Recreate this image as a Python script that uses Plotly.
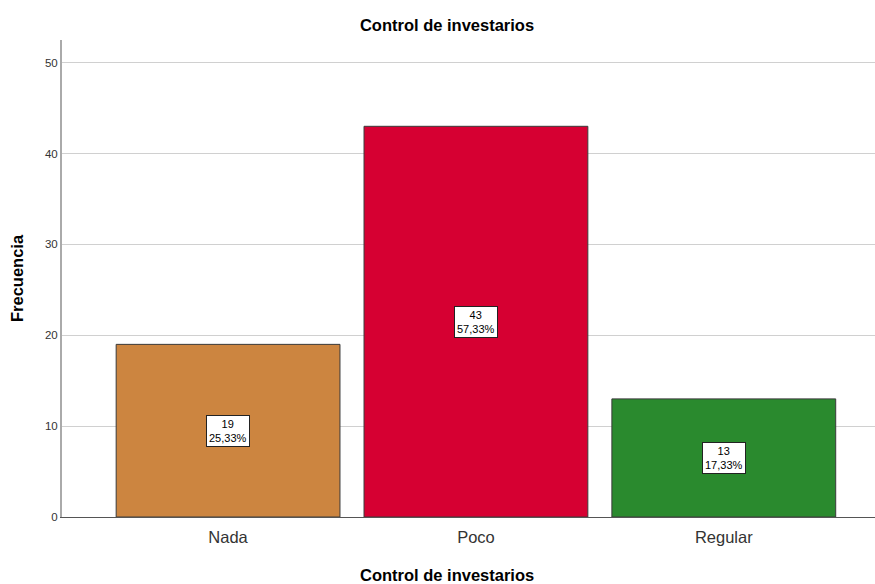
import plotly.graph_objects as go

categories = ["Nada", "Poco", "Regular"]
counts = [19, 43, 13]
pct_labels = ["25,33%", "57,33%", "17,33%"]
colors = ["#CC8540", "#D60032", "#2A8A2E"]
y_ticks = [0, 10, 20, 30, 40, 50]
title_text = "Control de investarios"

W, H = 875, 584
ML, MR, MT, MB = 62, 0, 40, 67

fig = go.Figure()
fig.add_trace(go.Bar(
    x=categories, y=counts, width=0.903,
    marker=dict(color=colors, line=dict(color="#3a3a3a", width=1)),
    hoverinfo="skip",
))

for c, v, p in zip(categories, counts, pct_labels):
    fig.add_annotation(
        x=c, y=v / 2, xref="x", yref="y",
        text=f"{v}<br>{p}", showarrow=False,
        font=dict(family="Arial", size=11, color="#000"),
        bgcolor="white", bordercolor="#222", borderwidth=1, borderpad=2,
        align="center",
    )

# x-axis title centred like the reference
fig.add_annotation(
    x=(447 - ML) / (W - ML - MR), y=(H - 575 - MB) / (H - MT - MB),
    xref="paper", yref="paper", yanchor="middle",
    text=f"<b>{title_text}</b>", showarrow=False,
    font=dict(family="Arial", size=16.5, color="#000"),
)

fig.update_layout(
    width=W, height=H,
    margin=dict(l=ML, r=MR, t=MT, b=MB, autoexpand=False),
    paper_bgcolor="white", plot_bgcolor="white",
    showlegend=False,
    font=dict(family="Arial", color="#222"),
    title=dict(text=f"<b>{title_text}</b>", x=447 / W, xref="container", xanchor="center",
               y=1 - 25 / H, yref="container", yanchor="middle",
               font=dict(size=16.5, color="#000")),
)
fig.update_xaxes(
    range=[-0.67, 2.61], automargin=False,
    showgrid=False, showline=True, linecolor="#555", linewidth=1,
    ticks="", tickfont=dict(size=16.5, color="#333"), ticklabelstandoff=5,
)
fig.update_yaxes(
    range=[0, 52.5], tickvals=y_ticks, automargin=False,
    showgrid=True, gridcolor="#d0d0d0", gridwidth=1,
    showline=True, linecolor="#aaa", linewidth=2,
    zeroline=False, ticks="", tickfont=dict(size=11.5, color="#333"),
    title=dict(text="<b>Frecuencia</b>", font=dict(size=16.5, color="#000"), standoff=17),
)

fig.write_html(
    "out.html",
    config={"displayModeBar": False},
    post_script="document.body.style.margin='0';document.body.style.overflow='hidden';",
)
